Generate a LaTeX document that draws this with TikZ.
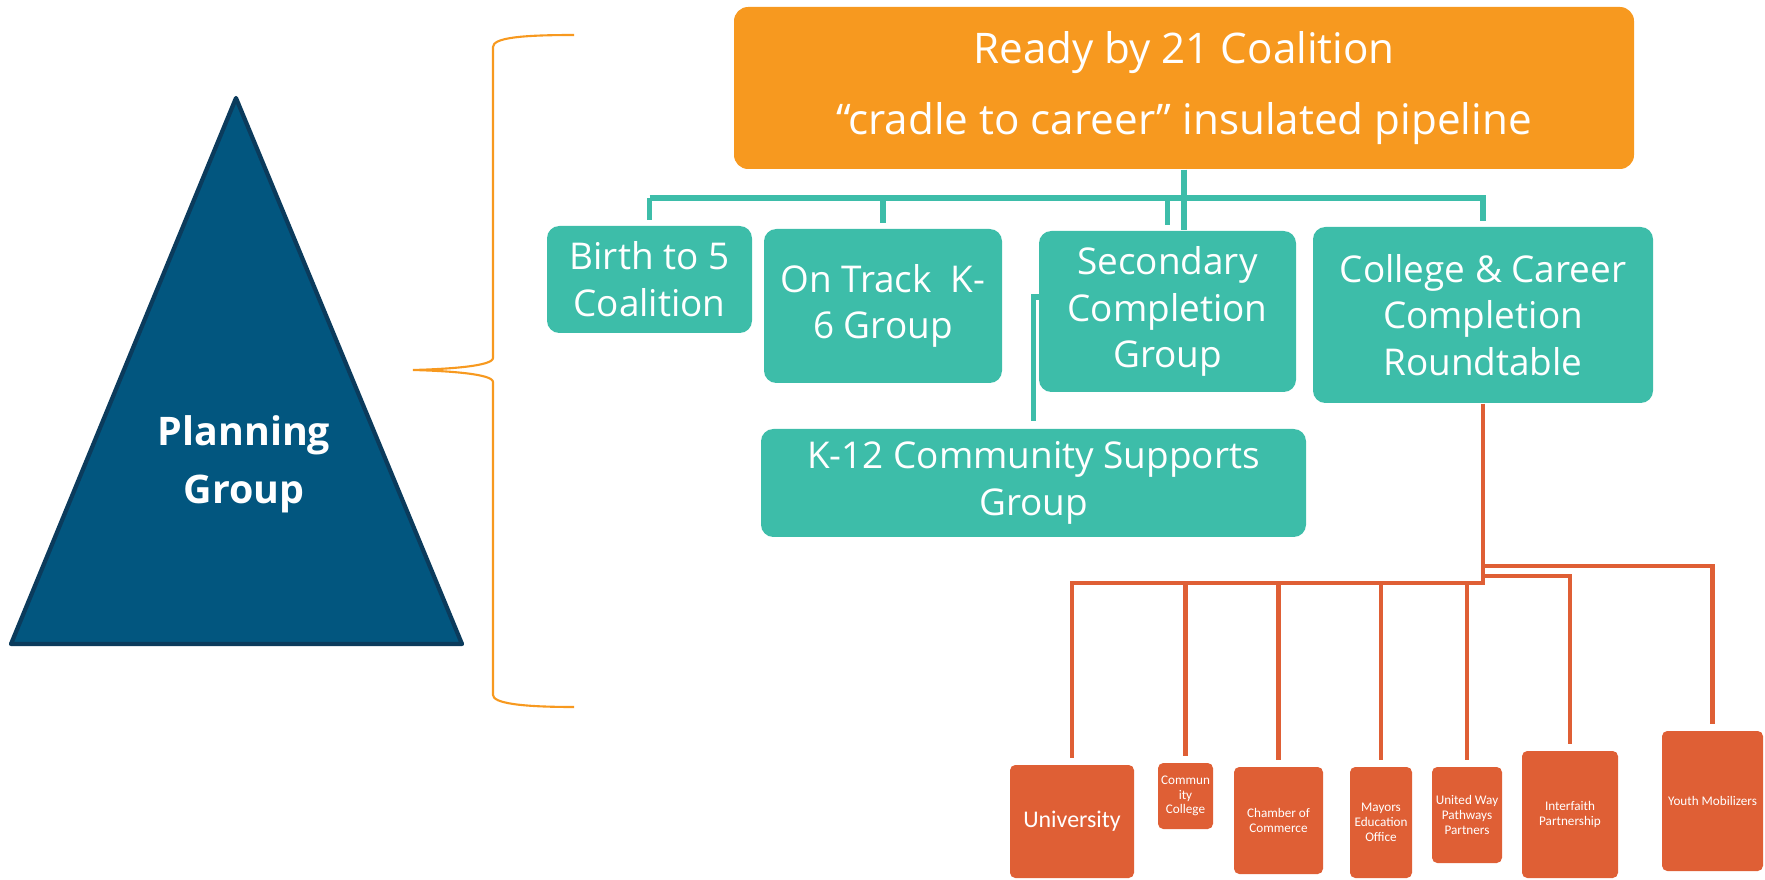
\documentclass[tikz,border=0pt]{standalone}
\usepackage{fontspec}
\setmainfont{Open Sans}
\newfontfamily\partnerfont{Carlito}
\usepackage{tikz}

\definecolor{readyorange}{HTML}{F7991F}
\definecolor{groupteal}{HTML}{3DBDA9}
\definecolor{partnerred}{HTML}{DF5F35}
\definecolor{planblue}{HTML}{02567F}
\definecolor{planedge}{HTML}{0B3B5C}

\tikzset{
	coalition/.style = {fill = readyorange, rounded corners = 4pt, text = white, align = center, inner sep = 0pt, font = \fontsize{12}{20}\selectfont},
	groupbox/.style = {fill = groupteal, rounded corners = 3.5pt, text = white, align = center, inner sep = 0pt, font = \fontsize{10.5}{13.3}\selectfont},
	partner/.style = {fill = partnerred, rounded corners = 1.5pt, text = white, align = center, inner sep = 0pt, font = \partnerfont\fontsize{3.75}{4.2}\selectfont},
	tealline/.style = {draw = groupteal, line width = 1.6pt},
	redline/.style = {draw = partnerred, line width = 1.3pt},
}

\begin{document}
\begin{tikzpicture}[x = 0.1mm, y = -0.1mm]
\useasboundingbox (0,0) rectangle (1765,880);

\draw[planedge, fill = planblue, line width = 1.2pt, line join = round] (236,98) -- (462,644) -- (11,644) -- cycle;
\node (plan) [text = white, align = center, font = \fontsize{11.2}{16.4}\selectfont\bfseries] at (244,464) {Planning\\Group};

\draw[readyorange, line width = 0.6pt] (574,35) .. controls (520,35) and (493,38) .. (493,47) -- (493,358) .. controls (493,366) and (450,369) .. (413,370) .. controls (450,371) and (493,374) .. (493,382) -- (493,695) .. controls (493,703) and (520,707) .. (574,707);

\node (top) [coalition, minimum width = 90mm, minimum height = 16.2mm] at (1184,88) {Ready by 21 Coalition\\``cradle to career'' insulated pipeline};

\node (birth) [groupbox, minimum width = 20.5mm, minimum height = 10.7mm] at (649.5,279.5) {Birth to 5\\Coalition};
\node (ontrack) [groupbox, minimum width = 23.8mm, minimum height = 15.4mm] at (883,306) {On Track\ \ K-\\6 Group};
\node (sec) [groupbox, minimum width = 25.7mm, minimum height = 16.1mm] at (1167.5,311.5) {Secondary\\Completion\\Group};
\node (college) [groupbox, minimum width = 34mm, minimum height = 17.6mm] at (1483,315) {College \& Career\\Completion\\Roundtable};
\node (k12) [groupbox, minimum width = 54.5mm, minimum height = 10.8mm] at (1033.5,483) {K-12 Community Supports\\Group};

\coordinate (tbar) at (1184,198);
\coordinate (kjoin) at (1039,297);
\draw[tealline] (top.south) -- (sec.north -| top.south);
\draw[tealline, shorten > = 1.5pt] (birth.north |- tbar) -- (college.north |- tbar) -- (college.north);
\foreach \g in {birth, ontrack, sec}
	\draw[tealline, shorten > = 1.5pt] (\g.north |- tbar) -- (\g.north);
\draw[tealline, shorten > = 2pt] (kjoin) -- (kjoin -| k12.north) -- (k12.north);

\node (univ) [partner, minimum width = 12.4mm, minimum height = 11.3mm, font = \partnerfont\fontsize{6.8}{8}\selectfont] at (1072,821.5) {University};
\node (comm) [partner, minimum width = 5.5mm, minimum height = 6.6mm] at (1185.5,796) {Commun\\ity\\College};
\node (chamber) [partner, minimum width = 8.9mm, minimum height = 10.7mm] at (1278.5,820.5) {Chamber of\\Commerce};
\node (mayors) [partner, minimum width = 6.2mm, minimum height = 11.1mm] at (1381,822.5) {Mayors\\Education\\Office};
\node (united) [partner, minimum width = 7mm, minimum height = 9.6mm] at (1467,815) {United Way\\Pathways\\Partners};
\node (faith) [partner, minimum width = 9.6mm, minimum height = 12.7mm] at (1570,814.5) {Interfaith\\Partnership};
\node (youth) [partner, minimum width = 10.1mm, minimum height = 14mm] at (1712.5,801) {Youth Mobilizers};

\coordinate (obar) at (1483,583);
\coordinate (fbar) at (1483,576);
\coordinate (ybar) at (1483,566);
\draw[redline, shorten > = 1.7pt] (college.south) -- (college.south |- obar) -- (univ.north |- obar) -- (univ.north);
\foreach \p in {comm, chamber, mayors, united}
	\draw[redline, shorten > = 1.7pt] (\p.north |- obar) -- (\p.north);
\draw[redline, shorten > = 1.7pt] (fbar) -| (faith.north);
\draw[redline, shorten > = 1.7pt] (ybar) -| (youth.north);
\end{tikzpicture}
\end{document}
